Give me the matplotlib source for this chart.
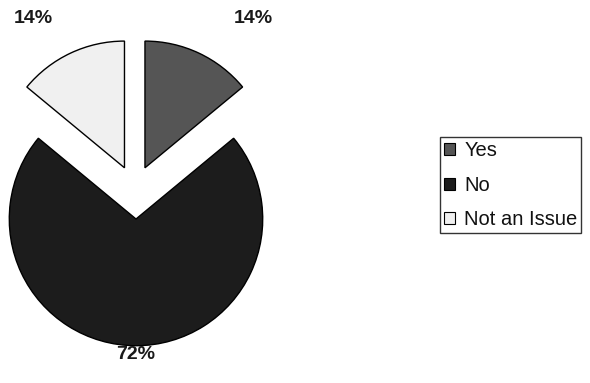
import matplotlib.pyplot as plt
from matplotlib.patches import Patch

plt.rcParams['font.family'] = ['Liberation Sans', 'DejaVu Sans']

labels = ['Yes', 'No', 'Not an Issue']
shares = [14, 72, 14]
colors = ['#555555', '#1c1c1c', '#f0f0f0']

# where each wedge's tip sits after being pulled away from the centre
offsets = [(0.07, 0.40), (0.0, 0.0), (-0.09, 0.40)]
# where each percentage is written
label_pos = [(0.915, 1.57), (0.0, -1.06), (-0.805, 1.57)]

fig = plt.figure(figsize=(5.9, 3.83), dpi=100)
W, H = 590, 383
scale = 128.0
cx, cy = 136, 219
ax = fig.add_axes([0, 0, 272 / W, 1])
ax.axis('off')

wedges, _ = ax.pie(shares, colors=colors, startangle=90, counterclock=False,
                   radius=0.99, normalize=True,
                   wedgeprops=dict(edgecolor='black', linewidth=1.0))
ax.set_xlim(-cx / scale, (272 - cx) / scale)
ax.set_ylim(-(H - cy) / scale, cy / scale)
ax.set_aspect('auto')

for w, (dx, dy) in zip(wedges, offsets):
    w.set_center((dx, dy))

for v, (x, y) in zip(shares, label_pos):
    ax.text(x, y, f'{v}%', ha='center', va='center', fontsize=14,
            fontweight='bold', color='#1a1a1a')

handles = [Patch(facecolor=c, edgecolor='black', linewidth=0.8) for c in colors]
leg = fig.legend(handles, labels, loc='upper left',
                 bbox_to_anchor=(440 / W, 1 - 137 / H), borderaxespad=0,
                 frameon=True, fancybox=False, edgecolor='black',
                 fontsize=14.5, handlelength=0.55, handleheight=0.55,
                 handletextpad=0.45, labelspacing=0.78, borderpad=0.2)
leg.get_frame().set_linewidth(1.0)
for t in leg.get_texts():
    t.set_color('#111111')

fig.savefig('out.png', dpi=100)
